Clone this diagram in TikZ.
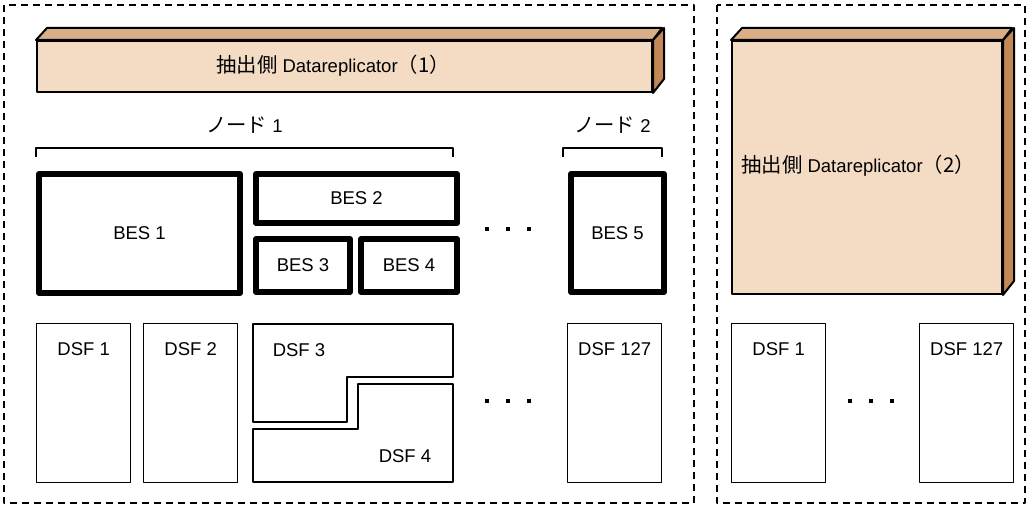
\documentclass[tikz,border=0pt]{standalone}
\usepackage{fontspec}
\setmainfont{Liberation Sans}
\newfontfamily\jpfont[Scale=1.1]{Noto Sans CJK JP}
\usepackage{tikz}
\usetikzlibrary{positioning}
\definecolor{barfront}{RGB}{243,219,196}
\definecolor{bartop}{RGB}{218,174,135}
\definecolor{barside}{RGB}{196,136,86}

\tikzset{
  groupframe/.style={draw, line width=1.3bp, dash pattern=on 7bp off 5bp},
  barface/.style={draw, fill=barfront, line width=2bp, inner sep=0pt, anchor=north west},
  besbox/.style={draw, line width=6bp, inner sep=0pt, anchor=north west},
  dsfbox/.style={draw, line width=1.3bp, inner sep=0pt, anchor=north west,
    minimum width=94bp, minimum height=159bp},
  dsftext/.style={anchor=north, inner sep=0pt, yshift=-19.5bp},
  dotmark/.style={fill, minimum size=4bp, inner sep=0pt}
}

\begin{document}
\begin{tikzpicture}[x=1bp, y=-1bp, line join=round,
    every node/.append style={font=\fontsize{18.5bp}{22bp}\selectfont}]
  \useasboundingbox (0,0) rectangle (1029,508);
  \draw[groupframe] (4,5) rectangle (694,503);
  \draw[groupframe] (717,5) rectangle (1025,503);

  % Datareplicator (1)
  \node[barface, minimum width=615bp, minimum height=51bp] (bar1) at (36,40) {};
  \draw[fill=bartop, line width=2bp] (bar1.north west) -- ++(11,-12) -- ++(615,0) -- (bar1.north east) -- cycle;
  \draw[fill=barside, line width=2bp] (bar1.north east) -- ++(11,-12) -- ++(0,51) -- (bar1.south east) -- cycle;
  \node (drep1) at (333,66) {{\jpfont 抽出側} Datareplicator{\jpfont （1）}};

  % Datareplicator (2)
  \node[barface, minimum width=270bp, minimum height=253bp] (bar2) at (731,40) {};
  \draw[fill=bartop, line width=2bp] (bar2.north west) -- ++(11,-12) -- ++(270,0) -- (bar2.north east) -- cycle;
  \draw[fill=barside, line width=2bp] (bar2.north east) -- ++(11,-12) -- ++(0,253) -- (bar2.south east) -- cycle;
  \node (drep2) at (858,166) {{\jpfont 抽出側} Datareplicator{\jpfont （2）}};

  % nodes
  \node (node1) at (244.5,125) {{\jpfont ノード} 1};
  \node (node2) at (612.5,125) {{\jpfont ノード} 2};
  \draw[line width=1.3bp] (36,157) |- (453,148) -- (453,157);
  \draw[line width=1.3bp] (563,157) |- (662,148) -- (662,157);

  % BES
  \node[besbox, minimum width=201bp, minimum height=119bp] (bes1) at (36,171) {BES 1};
  \node[besbox, minimum width=201bp, minimum height=49bp] (bes2) at (253,171) {BES 2};
  \node[besbox, minimum width=94bp, minimum height=53bp] (bes3) at (253,236) {BES 3};
  \node[besbox, minimum width=96bp, minimum height=53bp] (bes4) at (358,236) {BES 4};
  \node[besbox, minimum width=93bp, minimum height=118bp] (bes5) at (568,171) {BES 5};

  % DSF
  \node[dsfbox, label={[dsftext]north:DSF 1}] (dsf1) at (36,323) {};
  \node[dsfbox, label={[dsftext]north:DSF 2}] (dsf2) at (143,323) {};
  \draw[line width=1.3bp] (253,324) -- (453,324) -- (453,377) -- (347,377) -- (347,422) -- (253,422) -- cycle;
  \node (dsf3) at (299,350) {DSF 3};
  \draw[line width=1.3bp] (253,429) -- (358,429) -- (358,384) -- (453,384) -- (453,482) -- (253,482) -- cycle;
  \node (dsf4) at (405,456) {DSF 4};
  \node[dsfbox, label={[dsftext]north:DSF 127}] (dsf127) at (567,323) {};
  \node[dsfbox, label={[dsftext]north:DSF 1}] (rdsf1) at (731,323) {};
  \node[dsfbox, label={[dsftext]north:DSF 127}] (rdsf127) at (919,323) {};

  % dots
  \foreach \x in {487,508,529} {
    \node[dotmark] at (\x,229) {};
    \node[dotmark] at (\x,401) {};
  }
  \foreach \x in {850,871,892}
    \node[dotmark] at (\x,401) {};
\end{tikzpicture}
\end{document}
